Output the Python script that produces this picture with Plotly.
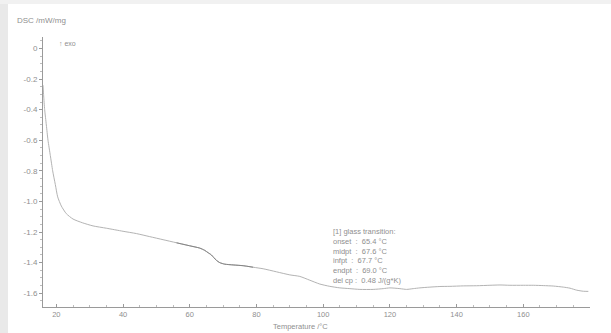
import plotly.graph_objects as go

# Temperature (°C) and DSC signal (mW/mg)
temperature = [16.0, 16.2, 16.5, 17.0, 17.5, 18.2, 18.9, 19.7, 20.4, 21.5, 23.0, 25.0, 27.9,
               31.0, 35.0, 40.0, 44.0, 48.0, 52.0, 56.0, 60.0, 63.0, 64.5, 65.5, 66.5, 67.2,
               68.0, 69.0, 70.5, 73.0, 76.0, 79.0, 82.0, 86.0, 90.0, 93.0, 96.0, 99.0, 102.0,
               105.0, 108.0, 111.0, 115.0, 118.0, 120.0, 123.0, 125.0, 127.0, 129.0, 132.0,
               135.0, 138.0, 142.0, 146.0, 150.0, 153.0, 156.0, 160.0, 163.0, 166.0, 169.0,
               172.0, 174.0, 176.0, 178.0, 179.5]
dsc = [-0.24, -0.31, -0.40, -0.50, -0.60, -0.70, -0.80, -0.89, -0.97, -1.03, -1.08, -1.115, -1.14,
       -1.16, -1.175, -1.195, -1.21, -1.23, -1.25, -1.27, -1.29, -1.305, -1.32, -1.335, -1.35, -1.367,
       -1.385, -1.40, -1.41, -1.415, -1.42, -1.43, -1.44, -1.46, -1.48, -1.49, -1.515, -1.54, -1.555,
       -1.565, -1.57, -1.575, -1.575, -1.57, -1.565, -1.57, -1.575, -1.57, -1.565, -1.56,
       -1.556, -1.555, -1.552, -1.551, -1.548, -1.546, -1.548, -1.548, -1.548, -1.55, -1.553,
       -1.56, -1.567, -1.58, -1.587, -1.588]

x_ticks = [20, 40, 60, 80, 100, 120, 140, 160]
y_ticks = [0, -0.2, -0.4, -0.6, -0.8, -1.0, -1.2, -1.4, -1.6]
y_tick_labels = ["0", "-0.2", "-0.4", "-0.6", "-0.8", "-1.0", "-1.2", "-1.4", "-1.6"]

result_lines = ["[1] glass transition:", "onset  :  65.4 °C", "midpt  :  67.6 °C",
                "infpt  :  67.7 °C", "endpt  :  69.0 °C", "del cp :  0.48 J/(g*K)"]

# darker segment around the transition
dark_T = [t for t in temperature if 55 <= t <= 79]
dark_v = [v for t, v in zip(temperature, dsc) if 55 <= t <= 79]

fig = go.Figure()
fig.add_trace(go.Scatter(x=temperature, y=dsc, mode="lines",
                         line=dict(color="#b3b3b3", width=1, shape="spline", smoothing=0.6),
                         showlegend=False, hoverinfo="skip"))
fig.add_trace(go.Scatter(x=dark_T, y=dark_v, mode="lines",
                         line=dict(color="#858585", width=1, shape="spline", smoothing=0.6),
                         showlegend=False, hoverinfo="skip"))

font = dict(family="Liberation Sans, Arial, sans-serif", size=8, color="#8f8f8f")

fig.update_layout(
    width=611, height=333, autosize=False,
    margin=dict(l=43, r=21, t=37, b=26),
    paper_bgcolor="white", plot_bgcolor="white",
    font=font,
    xaxis=dict(range=[16, 180], tickvals=x_ticks, ticks="inside", ticklen=3,
               tickcolor="#9a9a9a", showline=True, linecolor="#9a9a9a", linewidth=1,
               showgrid=False, zeroline=False, tickfont=dict(font, size=7.5),
               minor=dict(dtick=5, ticks="inside", ticklen=2, tickcolor="#bdbdbd")),
    yaxis=dict(range=[-1.69, 0.075], tickvals=y_ticks, ticktext=y_tick_labels,
               ticks="outside", ticklen=3, tickcolor="#9a9a9a", showline=True,
               linecolor="#9a9a9a", linewidth=1, showgrid=False, zeroline=False,
               tickfont=font,
               minor=dict(dtick=0.05, ticks="outside", ticklen=2, tickcolor="#bdbdbd")),
    shapes=[
        dict(type="rect", xref="paper", yref="paper", x0=-43/547, x1=-35/547,
             y0=-26/270, y1=307/270, fillcolor="#e9e9e9", line=dict(width=0), layer="below"),
        dict(type="rect", xref="paper", yref="paper", x0=-43/547, x1=568/547,
             y0=303/270, y1=307/270, fillcolor="#f1f1f1", line=dict(width=0), layer="below"),
    ],
    annotations=[
        dict(text="DSC /mW/mg", xref="paper", yref="paper", x=(15-43)/547, y=(307-20)/270,
             xanchor="left", yanchor="middle", showarrow=False, font=font),
        dict(text="↑ exo", xref="paper", yref="paper", x=(57-43)/547, y=(307-43)/270,
             xanchor="left", yanchor="middle", showarrow=False, font=dict(font, size=7)),
        dict(text="<br>".join(result_lines), xref="paper", yref="paper",
             x=(331-43)/547, y=(307-225)/270, xanchor="left", yanchor="top", align="left",
             showarrow=False, font=dict(font, size=7.5)),
        dict(text="Temperature /°C", xref="paper", yref="paper", x=(300-43)/547,
             y=(307-327)/270, xanchor="center", yanchor="middle", showarrow=False,
             font=dict(font, size=7.5)),
    ],
)

fig.write_html("out.html", config={"displayModeBar": False},
               post_script="document.body.style.margin='0';document.body.style.overflow='hidden';")
